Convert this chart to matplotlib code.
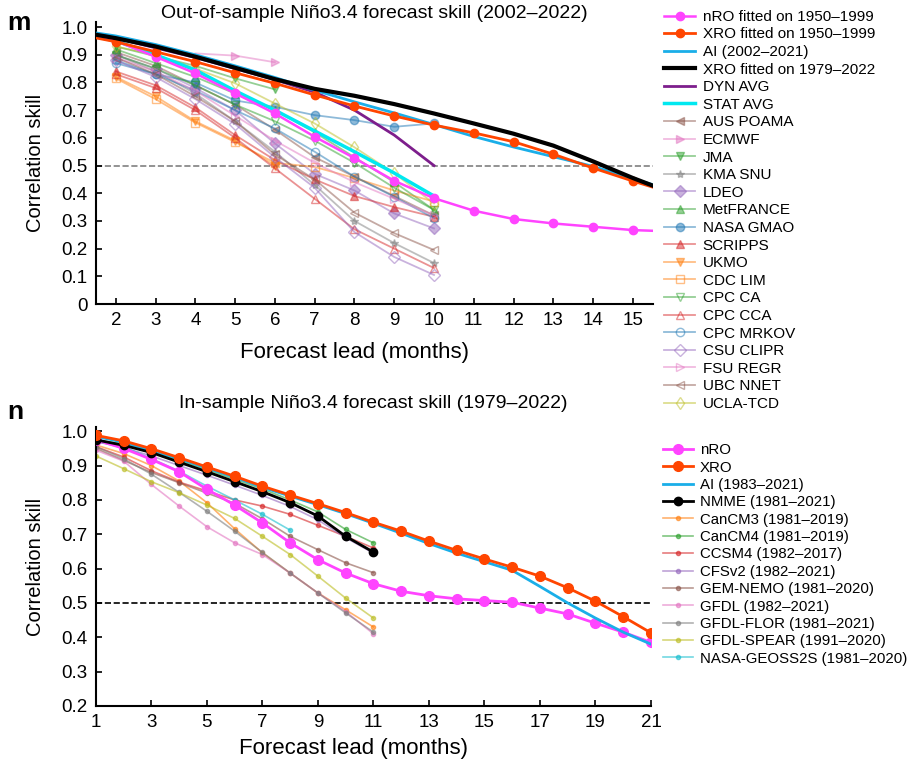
import numpy as np
import matplotlib
matplotlib.use('Agg')
import matplotlib.pyplot as plt

plt.rcParams['font.family'] = ['Liberation Sans', 'DejaVu Sans']

# panel m: out-of-sample (2002-2022)
lead_m = [1, 2, 3, 4, 5, 6, 7, 8, 9, 10, 11, 12, 13, 14, 15, 16]
nro_m = [0.975, 0.95, 0.893, 0.833, 0.761, 0.688, 0.604, 0.527, 0.445, 0.382, 0.337, 0.307, 0.291, 0.279, 0.267, 0.262]
xro_m = [0.975, 0.947, 0.911, 0.875, 0.835, 0.797, 0.755, 0.715, 0.679, 0.646, 0.618, 0.586, 0.541, 0.491, 0.444, 0.40]
ai_m = [0.99, 0.968, 0.937, 0.90, 0.86, 0.818, 0.772, 0.73, 0.69, 0.648, 0.605, 0.567, 0.532, 0.497, 0.452, 0.41]
xro79_m = [0.985, 0.96, 0.93, 0.893, 0.853, 0.812, 0.777, 0.752, 0.722, 0.688, 0.652, 0.615, 0.572, 0.515, 0.455, 0.40]

lead_avg = [1, 2, 3, 4, 5, 6, 7, 8, 9, 10]
dyn_avg = [0.985, 0.96, 0.925, 0.89, 0.85, 0.81, 0.765, 0.70, 0.61, 0.50]
stat_avg = [0.98, 0.95, 0.90, 0.845, 0.77, 0.70, 0.625, 0.55, 0.473, 0.39]

lead_mod = [2, 3, 4, 5, 6, 7, 8, 9, 10]
models_m = {
    'AUS POAMA': ([0.91, 0.86, 0.79, 0.72, 0.63, 0.53, 0.46, 0.39, 0.32], lead_mod),
    'ECMWF': ([0.905, 0.897, 0.873], [4, 5, 6]),
    'JMA': ([0.93, 0.895, 0.86, 0.815, 0.775], [2, 3, 4, 5, 6]),
    'KMA SNU': ([0.90, 0.84, 0.76, 0.66, 0.55, 0.43, 0.30, 0.22, 0.148], lead_mod),
    'LDEO': ([0.90, 0.85, 0.78, 0.70, 0.58, 0.47, 0.41, 0.327, 0.273], lead_mod),
    'MetFRANCE': ([0.92, 0.87, 0.82, 0.76, 0.70, 0.62, 0.53, 0.44, 0.34], lead_mod),
    'NASA GMAO': ([0.88, 0.83, 0.80, 0.735, 0.712, 0.682, 0.664, 0.64, 0.652], lead_mod),
    'SCRIPPS': ([0.84, 0.79, 0.71, 0.61, 0.52, 0.45, 0.39, 0.35, 0.315], lead_mod),
    'UKMO': ([0.82, 0.75, 0.66, 0.59, 0.50], [2, 3, 4, 5, 6]),
    'CDC LIM': ([0.815, 0.74, 0.655, 0.585, 0.51, 0.495, 0.455, 0.41, 0.37], lead_mod),
    'CPC CA': ([0.90, 0.85, 0.79, 0.72, 0.66, 0.59, 0.51, 0.42, 0.34], lead_mod),
    'CPC CCA': ([0.83, 0.78, 0.70, 0.60, 0.49, 0.38, 0.27, 0.20, 0.13], lead_mod),
    'CPC MRKOV': ([0.87, 0.83, 0.77, 0.70, 0.634, 0.55, 0.46, 0.387, 0.31], lead_mod),
    'CSU CLIPR': ([0.88, 0.82, 0.74, 0.65, 0.53, 0.42, 0.26, 0.17, 0.105], lead_mod),
    'FSU REGR': ([0.89, 0.84, 0.77, 0.68, 0.59, 0.51, 0.44, 0.38, 0.32], lead_mod),
    'UBC NNET': ([0.89, 0.83, 0.75, 0.66, 0.54, 0.45, 0.33, 0.256, 0.195], lead_mod),
    'UCLA-TCD': ([0.93, 0.90, 0.85, 0.797, 0.724, 0.652, 0.566, 0.472, 0.363], lead_mod),
}
model_style = {
    'AUS POAMA': ('tab:brown', '<', True),
    'ECMWF': ('tab:pink', '>', True),
    'JMA': ('tab:green', 'v', True),
    'KMA SNU': ('tab:gray', '*', True),
    'LDEO': ('tab:purple', 'D', True),
    'MetFRANCE': ('tab:green', '^', True),
    'NASA GMAO': ('tab:blue', 'o', True),
    'SCRIPPS': ('tab:red', '^', True),
    'UKMO': ('tab:orange', 'v', True),
    'CDC LIM': ('tab:orange', 's', False),
    'CPC CA': ('tab:green', 'v', False),
    'CPC CCA': ('tab:red', '^', False),
    'CPC MRKOV': ('tab:blue', 'o', False),
    'CSU CLIPR': ('tab:purple', 'D', False),
    'FSU REGR': ('tab:pink', '>', False),
    'UBC NNET': ('tab:brown', '<', False),
    'UCLA-TCD': ('tab:olive', 'd', False),
}

# panel n: in-sample (1979-2022)
lead_n = list(range(1, 22))
nro_n = [0.975, 0.95, 0.918, 0.882, 0.831, 0.785, 0.733, 0.675, 0.626, 0.587, 0.556, 0.534, 0.521, 0.512, 0.507, 0.502, 0.485, 0.468, 0.441, 0.415, 0.385]
xro_n = [0.988, 0.972, 0.949, 0.923, 0.896, 0.869, 0.840, 0.814, 0.789, 0.763, 0.735, 0.709, 0.680, 0.653, 0.628, 0.604, 0.578, 0.544, 0.505, 0.46, 0.413]
ai_n = [0.985, 0.968, 0.945, 0.92, 0.893, 0.866, 0.837, 0.811, 0.786, 0.76, 0.732, 0.703, 0.673, 0.645, 0.62, 0.595, 0.548, 0.50, 0.456, 0.415, 0.38]
lead_nmme = list(range(1, 12))
nmme_n = [0.975, 0.959, 0.938, 0.910, 0.882, 0.853, 0.824, 0.792, 0.753, 0.694, 0.648]
models_n = {
    'CanCM3 (1981–2019)': ([0.96, 0.935, 0.90, 0.855, 0.792, 0.716, 0.646, 0.587, 0.529, 0.48, 0.43], 'tab:orange'),
    'CanCM4 (1981–2019)': ([0.975, 0.962, 0.942, 0.915, 0.888, 0.86, 0.832, 0.80, 0.765, 0.714, 0.675], 'tab:green'),
    'CCSM4 (1982–2017)': ([0.955, 0.925, 0.885, 0.852, 0.826, 0.80, 0.782, 0.758, 0.726, 0.694, 0.66], 'tab:red'),
    'CFSv2 (1982–2021)': ([0.97, 0.952, 0.928, 0.90, 0.872, 0.843, 0.813, 0.781, 0.742, 0.69, 0.645], 'tab:purple'),
    'GEM-NEMO (1981–2020)': ([0.95, 0.915, 0.88, 0.85, 0.82, 0.79, 0.745, 0.694, 0.655, 0.617, 0.588], 'tab:brown'),
    'GFDL (1982–2021)': ([0.945, 0.913, 0.845, 0.782, 0.722, 0.675, 0.641, 0.587, 0.529, 0.475, 0.41], 'tab:pink'),
    'GFDL-FLOR (1981–2021)': ([0.955, 0.92, 0.875, 0.822, 0.767, 0.709, 0.647, 0.587, 0.529, 0.471, 0.415], 'tab:gray'),
    'GFDL-SPEAR (1991–2020)': ([0.928, 0.891, 0.853, 0.821, 0.785, 0.746, 0.694, 0.641, 0.578, 0.514, 0.456], 'tab:olive'),
    'NASA-GEOSS2S (1981–2020)': ([0.97, 0.955, 0.92, 0.884, 0.84, 0.80, 0.758, 0.712], 'tab:cyan'),
}

c_xro = '#ff4500'
c_nro = '#ff44ff'
c_ai = '#1aaee8'

fig = plt.figure(figsize=(9.13, 7.62), dpi=100)
ax1 = fig.add_axes([0.105, 0.601, 0.610, 0.370])
ax2 = fig.add_axes([0.105, 0.0735, 0.608, 0.366])


def style_axis(ax):
    ax.spines['top'].set_visible(False)
    ax.spines['right'].set_visible(False)
    ax.spines['left'].set_linewidth(1.5)
    ax.spines['bottom'].set_linewidth(1.5)
    ax.tick_params(direction='in', labelsize=13.5, length=4, width=1.2, pad=6)


# --- panel m ---
for name, (vals, leads) in models_m.items():
    col, mk, filled = model_style[name]
    every = [1, 2] if name == 'ECMWF' else None
    ax1.plot(leads, vals, color=col, marker=mk, ms=6, lw=1.3, alpha=0.5, markevery=every,
             mfc=col if filled else 'none', label=name, zorder=2)
ax1.plot(lead_m, nro_m, color=c_nro, marker='o', ms=6, lw=1.8, label='nRO fitted on 1950–1999', zorder=4)
ax1.plot(lead_m, xro_m, color=c_xro, marker='o', ms=6, lw=2, label='XRO fitted on 1950–1999', zorder=6)
ax1.plot(lead_m, ai_m, color=c_ai, lw=2, label='AI (2002–2021)', zorder=5)
ax1.plot(lead_m, xro79_m, color='black', lw=3, label='XRO fitted on 1979–2022', zorder=7)
ax1.plot(lead_avg, dyn_avg, color='#7d1e8c', lw=2, label='DYN AVG', zorder=4)
ax1.plot(lead_avg, stat_avg, color='#00e8f0', lw=2.5, label='STAT AVG', zorder=3)
ax1.axhline(0.5, color='gray', ls='--', lw=1.2, zorder=1)

ax1.set_xlim(1.5, 15.5)
ax1.set_ylim(0, 1.018)
ax1.set_xticks(range(2, 16))
ax1.set_yticks(np.arange(0, 1.01, 0.1))
ax1.set_yticklabels(['0'] + ['%.1f' % v for v in np.arange(0.1, 1.01, 0.1)])
style_axis(ax1)
ax1.set_xlabel('Forecast lead (months)', fontsize=16)
ax1.xaxis.set_label_coords(0.465, -0.135)
ax1.set_ylabel('Correlation skill', fontsize=14.5, labelpad=12)
ax1.set_title('Out-of-sample Niño3.4 forecast skill (2002–2022)', fontsize=14, pad=-2)

h, l = ax1.get_legend_handles_labels()
order = list(range(len(models_m), len(l))) + list(range(len(models_m)))
ax1.legend([h[i] for i in order], [l[i] for i in order], loc='upper left',
           bbox_to_anchor=(1.01, 1.065), frameon=False, fontsize=11,
           handlelength=2, handletextpad=0.5, labelspacing=0.235, borderaxespad=0)

# --- panel n ---
for name, (vals, col) in models_n.items():
    ax2.plot(lead_nmme[:len(vals)], vals, color=col, marker='o', ms=3, lw=1.2, alpha=0.6, label=name, zorder=2)
ax2.plot(lead_n, nro_n, color=c_nro, marker='o', ms=7, lw=2, label='nRO', zorder=4)
ax2.plot(lead_n, xro_n, color=c_xro, marker='o', ms=7, lw=2, label='XRO', zorder=6)
ax2.plot(lead_n, ai_n, color=c_ai, lw=2, label='AI (1983–2021)', zorder=5)
ax2.plot(lead_nmme, nmme_n, color='black', marker='o', ms=6, lw=2, label='NMME (1981–2021)', zorder=5)
ax2.axhline(0.5, color='black', ls='--', lw=1.2, zorder=1)

ax2.set_xlim(1, 21)
ax2.set_ylim(0.2, 1.012)
ax2.set_xticks(range(1, 22, 2))
ax2.set_yticks(np.arange(0.2, 1.01, 0.1))
ax2.set_yticklabels(['%.1f' % v for v in np.arange(0.2, 1.01, 0.1)])
style_axis(ax2)
ax2.set_xlabel('Forecast lead (months)', fontsize=16)
ax2.xaxis.set_label_coords(0.465, -0.115)
ax2.set_ylabel('Correlation skill', fontsize=14.5, labelpad=12)
ax2.set_title('In-sample Niño3.4 forecast skill (1979–2022)', fontsize=14, pad=14)

h, l = ax2.get_legend_handles_labels()
n = len(models_n)
order = list(range(n, len(l))) + list(range(n))
ax2.legend([h[i] for i in order], [l[i] for i in order], loc='upper left',
           bbox_to_anchor=(1.01, 0.964), frameon=False, fontsize=10.8,
           handlelength=2, handletextpad=0.5, labelspacing=0.225, borderaxespad=0)

fig.text(0.008, 0.985, 'm', fontsize=19, fontweight='bold', va='top')
fig.text(0.008, 0.475, 'n', fontsize=19, fontweight='bold', va='top')

fig.savefig('out.png', dpi=100)
